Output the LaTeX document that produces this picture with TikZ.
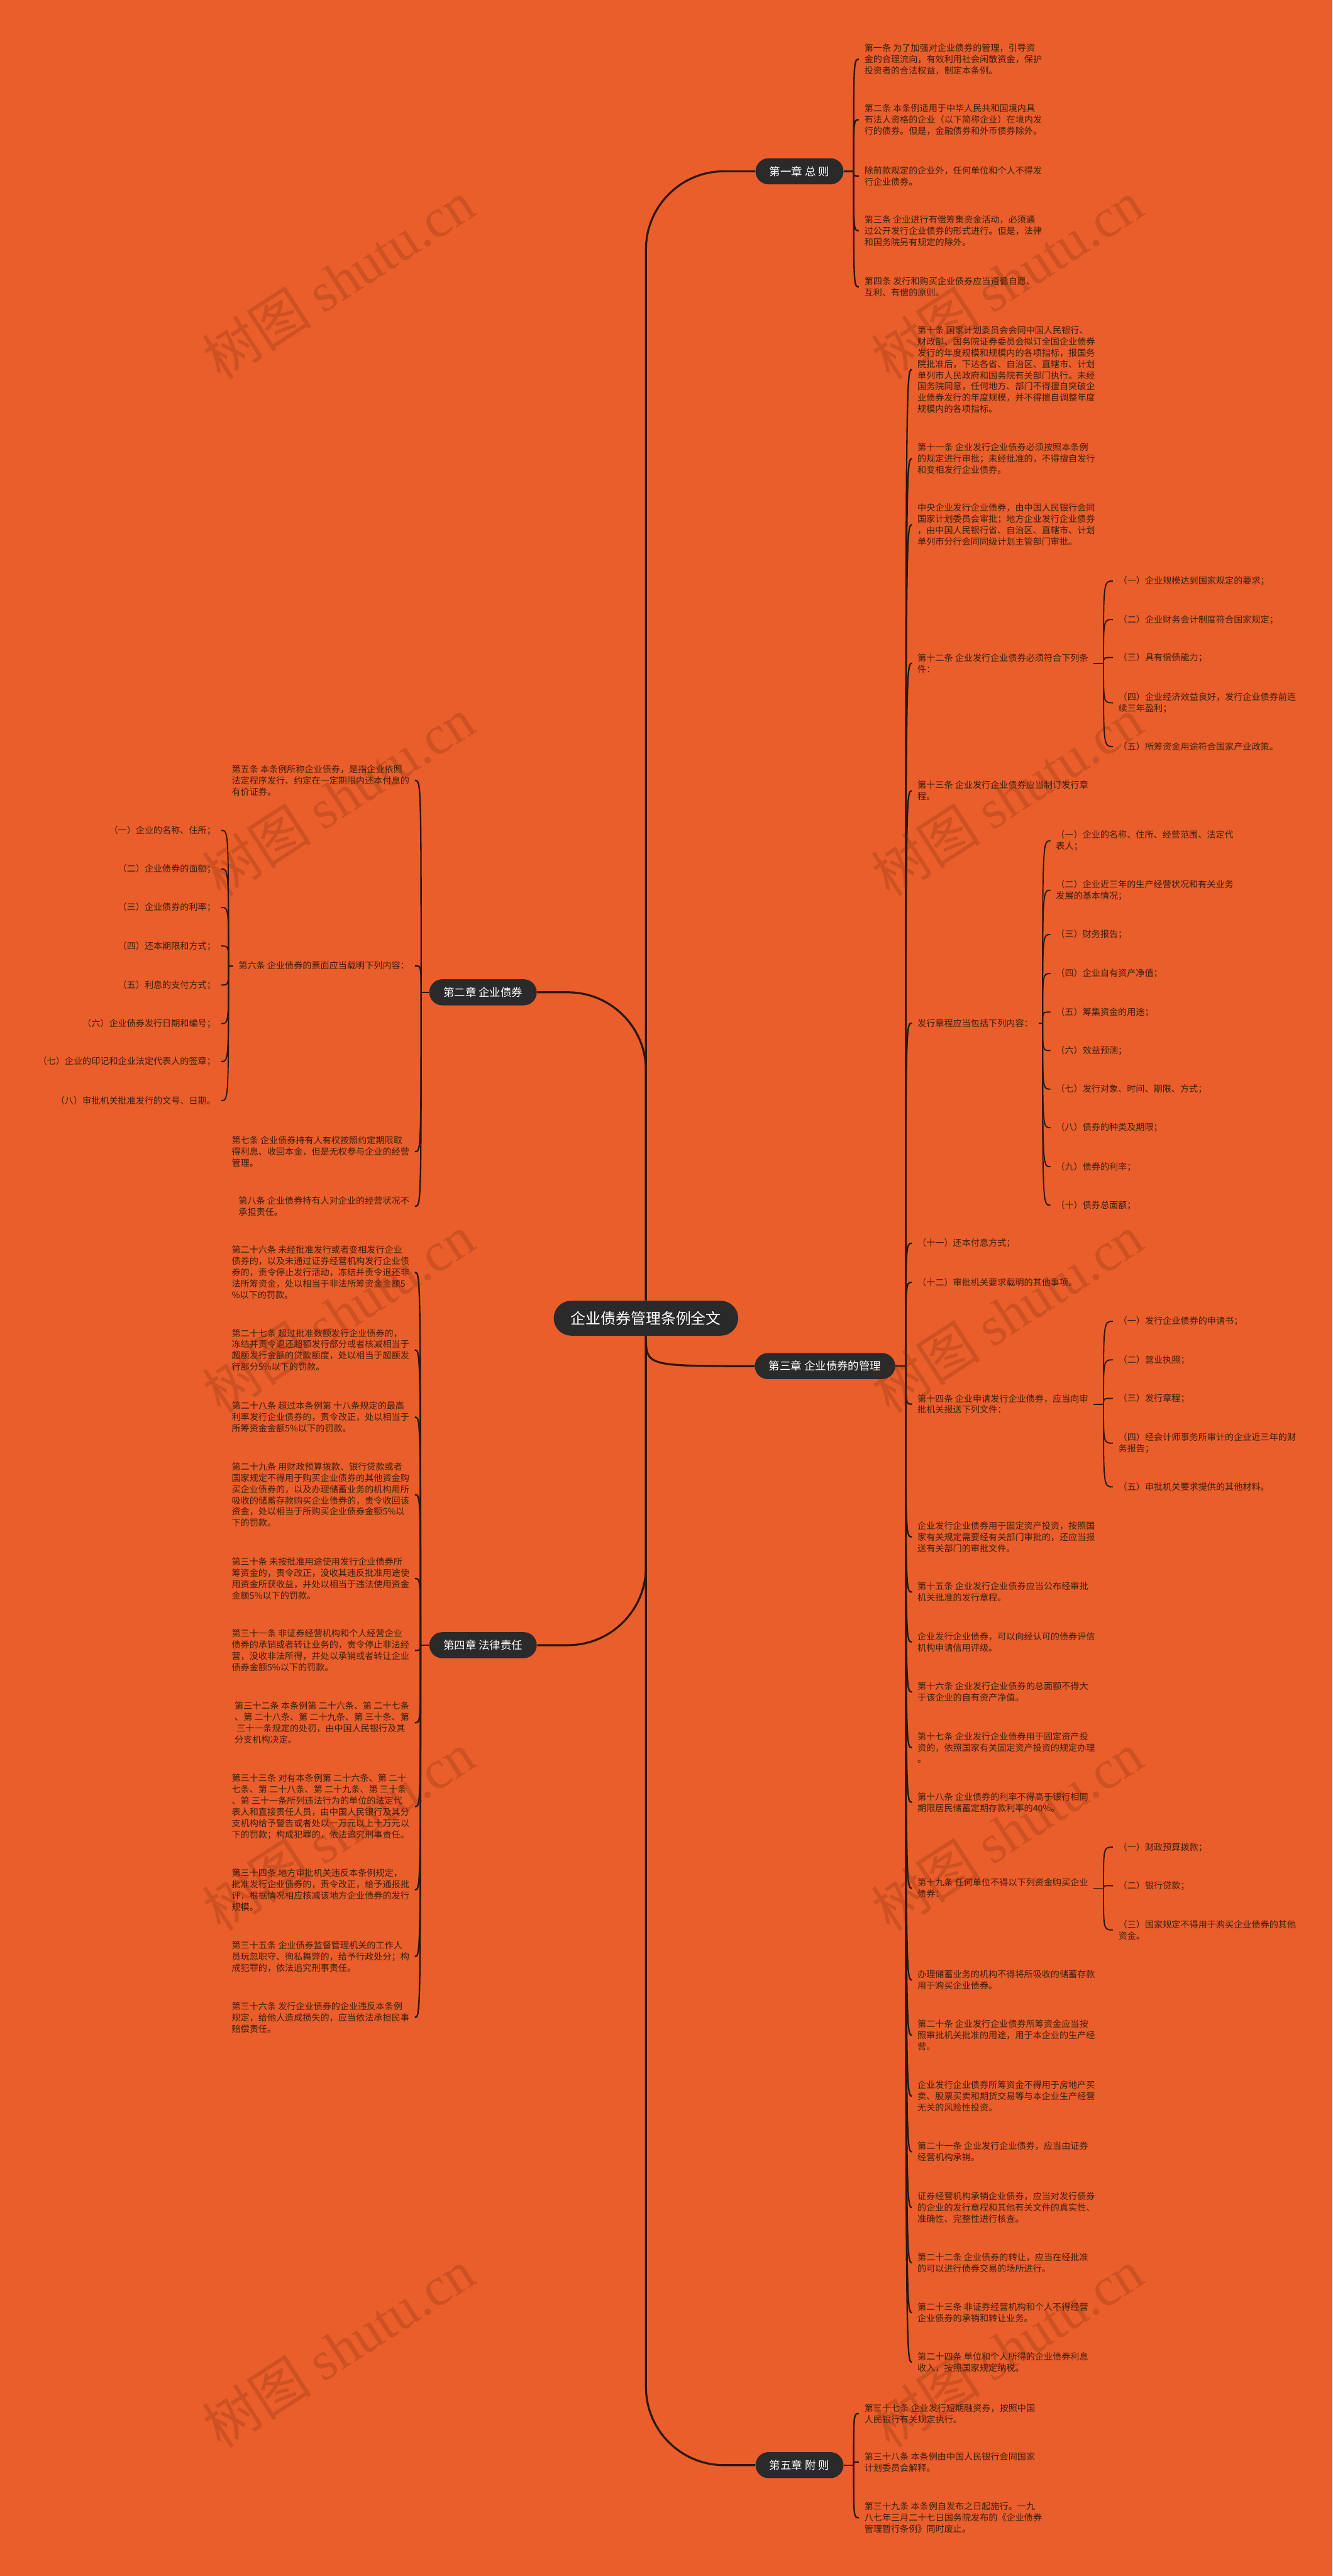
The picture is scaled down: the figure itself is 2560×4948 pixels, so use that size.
\documentclass[tikz,border=0pt]{standalone}
\usepackage{fontspec}
\newfontfamily\cjk{Noto Sans CJK SC}
\newfontfamily\wmserif{Liberation Serif}

\definecolor{bgorange}{HTML}{E95E2A}
\definecolor{nodedark}{HTML}{2A2A2A}
\definecolor{inkbrown}{HTML}{3B2012}
\definecolor{linebrown}{HTML}{2A1810}
\definecolor{markbrown}{HTML}{6A2408}

\tikzset{
  root/.style={rectangle, rounded corners=0.335cm, fill=nodedark, text=white, font=\cjk\fontsize{8.2pt}{9pt}\selectfont, minimum height=0.67cm, inner xsep=0.33cm, inner ysep=0pt},
  chapter/.style={rectangle, rounded corners=0.25cm, fill=nodedark, text=white, font=\cjk\fontsize{6pt}{7pt}\selectfont, minimum height=0.5cm, inner xsep=0.27cm, inner ysep=0pt},
  leaf/.style={align=left, inner xsep=0.1cm, inner ysep=0.02cm, text=inkbrown, font=\cjk\fontsize{4.85pt}{6.15pt}\selectfont},
  leafr/.style={leaf, anchor=west},
  leafl/.style={leaf, anchor=east},
  subl/.style={leaf, anchor=east, align=right},
  trunk/.style={draw=linebrown, line width=1.1pt},
  branch/.style={draw=linebrown, line width=0.8pt},
  twig/.style={draw=linebrown, line width=0.65pt},
  watermark/.style={rotate=33, text=markbrown, text opacity=0.22, font=\cjk\fontsize{30pt}{30pt}\selectfont}
}

\begin{document}
\begin{tikzpicture}[x=0.01cm, y=-0.01cm]

\fill[bgorange, use as bounding box] (0,0) rectangle (2560,4948);

% Boxes
\draw (1241,2532) node [root] (root) {企业债券管理条例全文};
\draw (1536,329) node [chapter] (ch1) {第一章 总 则};
\draw (928,1906) node [chapter] (ch2) {第二章 企业债券};
\draw (1585,2624) node [chapter] (ch3) {第三章 企业债券的管理};
\draw (928,3160) node [chapter] (ch4) {第四章 法律责任};
\draw (1536,4735) node [chapter] (ch5) {第五章 附 则};

% chapter one
\draw (1650,114) node [leafr] (c1a) {第一条 为了加强对企业债券的管理，引导资\\金的合理流向，有效利用社会闲散资金，保护\\投资者的合法权益，制定本条例。};
\draw (1650,230) node [leafr] (c1b) {第二条 本条例适用于中华人民共和国境内具\\有法人资格的企业（以下简称企业）在境内发\\行的债券。但是，金融债券和外币债券除外。};
\draw (1650,338) node [leafr] (c1c) {除前款规定的企业外，任何单位和个人不得发\\行企业债券。};
\draw (1650,443) node [leafr] (c1d) {第三条 企业进行有偿筹集资金活动，必须通\\过公开发行企业债券的形式进行。但是，法律\\和国务院另有规定的除外。};
\draw (1650,551) node [leafr] (c1e) {第四条 发行和购买企业债券应当遵循自愿、\\互利、有偿的原则。};

% chapter two
\draw (797,1499) node [leafl] (c2a) {第五条 本条例所称企业债券，是指企业依照\\法定程序发行、约定在一定期限内还本付息的\\有价证券。};
\draw (797,1855) node [leafl] (c2b) {第六条 企业债券的票面应当载明下列内容：};
\draw (797,2212) node [leafl] (c2c) {第七条 企业债券持有人有权按照约定期限取\\得利息、收回本金，但是无权参与企业的经营\\管理。};
\draw (797,2317) node [leafl] (c2d) {第八条 企业债券持有人对企业的经营状况不\\承担责任。};
\draw (425,1595) node [subl] (c2b1) {（一）企业的名称、住所；};
\draw (425,1669) node [subl] (c2b2) {（二）企业债券的面额；};
\draw (425,1743) node [subl] (c2b3) {（三）企业债券的利率；};
\draw (425,1817) node [subl] (c2b4) {（四）还本期限和方式；};
\draw (425,1892) node [subl] (c2b5) {（五）利息的支付方式；};
\draw (425,1966) node [subl] (c2b6) {（六）企业债券发行日期和编号；};
\draw (425,2039) node [subl] (c2b7) {（七）企业的印记和企业法定代表人的签章；};
\draw (425,2114) node [subl] (c2b8) {（八）审批机关批准发行的文号、日期。};

% chapter three
\draw (1752,710) node [leafr] (c3a) {第十条 国家计划委员会会同中国人民银行、\\财政部、国务院证券委员会拟订全国企业债券\\发行的年度规模和规模内的各项指标，报国务\\院批准后，下达各省、自治区、直辖市、计划\\单列市人民政府和国务院有关部门执行。未经\\国务院同意，任何地方、部门不得擅自突破企\\业债券发行的年度规模，并不得擅自调整年度\\规模内的各项指标。};
\draw (1752,881) node [leafr] (c3b) {第十一条 企业发行企业债券必须按照本条例\\的规定进行审批；未经批准的，不得擅自发行\\和变相发行企业债券。};
\draw (1752,1008) node [leafr] (c3c) {中央企业发行企业债券，由中国人民银行会同\\国家计划委员会审批；地方企业发行企业债券\\，由中国人民银行省、自治区、直辖市、计划\\单列市分行会同同级计划主管部门审批。};
\draw (1752,1274) node [leafr] (c3d) {第十二条 企业发行企业债券必须符合下列条\\件：};
\draw (2138,1116) node [leafr] (c3d1) {（一）企业规模达到国家规定的要求；};
\draw (2138,1190) node [leafr] (c3d2) {（二）企业财务会计制度符合国家规定；};
\draw (2138,1263) node [leafr] (c3d3) {（三）具有偿债能力；};
\draw (2138,1350) node [leafr] (c3d4) {（四）企业经济效益良好，发行企业债券前连\\续三年盈利；};
\draw (2138,1434) node [leafr] (c3d5) {（五）所筹资金用途符合国家产业政策。};
\draw (1752,1519) node [leafr] (c3e) {第十三条 企业发行企业债券应当制订发行章\\程。};
\draw (1752,1965) node [leafr] (c3f) {发行章程应当包括下列内容：};
\draw (2018,1615) node [leafr] (c3f1) {（一）企业的名称、住所、经营范围、法定代\\表人；};
\draw (2018,1710) node [leafr] (c3f2) {（二）企业近三年的生产经营状况和有关业务\\发展的基本情况；};
\draw (2018,1795) node [leafr] (c3f3) {（三）财务报告；};
\draw (2018,1870) node [leafr] (c3f4) {（四）企业自有资产净值；};
\draw (2018,1944) node [leafr] (c3f5) {（五）筹集资金的用途；};
\draw (2018,2018) node [leafr] (c3f6) {（六）效益预测；};
\draw (2018,2092) node [leafr] (c3f7) {（七）发行对象、时间、期限、方式；};
\draw (2018,2166) node [leafr] (c3f8) {（八）债券的种类及期限；};
\draw (2018,2241) node [leafr] (c3f9) {（九）债券的利率；};
\draw (2018,2315) node [leafr] (c3f10) {（十）债券总面额；};
\draw (1752,2388) node [leafr] (c3g) {（十一）还本付息方式；};
\draw (1752,2463) node [leafr] (c3h) {（十二）审批机关要求载明的其他事项。};
\draw (1752,2697) node [leafr] (c3i) {第十四条 企业申请发行企业债券，应当向审\\批机关报送下列文件：};
\draw (2138,2538) node [leafr] (c3i1) {（一）发行企业债券的申请书；};
\draw (2138,2612) node [leafr] (c3i2) {（二）营业执照；};
\draw (2138,2686) node [leafr] (c3i3) {（三）发行章程；};
\draw (2138,2772) node [leafr] (c3i4) {（四）经会计师事务所审计的企业近三年的财\\务报告；};
\draw (2138,2856) node [leafr] (c3i5) {（五）审批机关要求提供的其他材料。};
\draw (1752,2952) node [leafr] (c3j) {企业发行企业债券用于固定资产投资，按照国\\家有关规定需要经有关部门审批的，还应当报\\送有关部门的审批文件。};
\draw (1752,3058) node [leafr] (c3k) {第十五条 企业发行企业债券应当公布经审批\\机关批准的发行章程。};
\draw (1752,3154) node [leafr] (c3l) {企业发行企业债券，可以向经认可的债券评信\\机构申请信用评级。};
\draw (1752,3250) node [leafr] (c3m) {第十六条 企业发行企业债券的总面额不得大\\于该企业的自有资产净值。};
\draw (1752,3357) node [leafr] (c3n) {第十七条 企业发行企业债券用于固定资产投\\资的，依照国家有关固定资产投资的规定办理\\。};
\draw (1752,3462) node [leafr] (c3o) {第十八条 企业债券的利率不得高于银行相同\\期限居民储蓄定期存款利率的40\%。};
\draw (1752,3627) node [leafr] (c3p) {第十九条 任何单位不得以下列资金购买企业\\债券：};
\draw (2138,3548) node [leafr] (c3p1) {（一）财政预算拨款；};
\draw (2138,3622) node [leafr] (c3p2) {（二）银行贷款；};
\draw (2138,3707) node [leafr] (c3p3) {（三）国家规定不得用于购买企业债券的其他\\资金。};
\draw (1752,3803) node [leafr] (c3q) {办理储蓄业务的机构不得将所吸收的储蓄存款\\用于购买企业债券。};
\draw (1752,3909) node [leafr] (c3r) {第二十条 企业发行企业债券所筹资金应当按\\照审批机关批准的用途，用于本企业的生产经\\营。};
\draw (1752,4026) node [leafr] (c3s) {企业发行企业债券所筹资金不得用于房地产买\\卖、股票买卖和期货交易等与本企业生产经营\\无关的风险性投资。};
\draw (1752,4133) node [leafr] (c3t) {第二十一条 企业发行企业债券，应当由证券\\经营机构承销。};
\draw (1752,4240) node [leafr] (c3u) {证券经营机构承销企业债券，应当对发行债券\\的企业的发行章程和其他有关文件的真实性、\\准确性、完整性进行核查。};
\draw (1752,4346) node [leafr] (c3v) {第二十二条 企业债券的转让，应当在经批准\\的可以进行债券交易的场所进行。};
\draw (1752,4442) node [leafr] (c3w) {第二十三条 非证券经营机构和个人不得经营\\企业债券的承销和转让业务。};
\draw (1752,4537) node [leafr] (c3x) {第二十四条 单位和个人所得的企业债券利息\\收入，按照国家规定纳税。};

% chapter four
\draw (797,2444) node [leafl] (c4a) {第二十六条 未经批准发行或者变相发行企业\\债券的，以及未通过证券经营机构发行企业债\\券的，责令停止发行活动，冻结并责令退还非\\法所筹资金，处以相当于非法所筹资金金额5\\\%以下的罚款。};
\draw (797,2593) node [leafl] (c4b) {第二十七条 超过批准数额发行企业债券的，\\冻结并责令退还超额发行部分或者核减相当于\\超额发行金额的贷款额度，处以相当于超额发\\行部分5\%以下的罚款。};
\draw (797,2722) node [leafl] (c4c) {第二十八条 超过本条例第 十八条规定的最高\\利率发行企业债券的，责令改正，处以相当于\\所筹资金金额5\%以下的罚款。};
\draw (797,2871) node [leafl] (c4d) {第二十九条 用财政预算拨款、银行贷款或者\\国家规定不得用于购买企业债券的其他资金购\\买企业债券的，以及办理储蓄业务的机构用所\\吸收的储蓄存款购买企业债券的，责令收回该\\资金，处以相当于所购买企业债券金额5\%以\\下的罚款。};
\draw (797,3032) node [leafl] (c4e) {第三十条 未按批准用途使用发行企业债券所\\筹资金的，责令改正，没收其违反批准用途使\\用资金所获收益，并处以相当于违法使用资金\\金额5\%以下的罚款。};
\draw (797,3170) node [leafl] (c4f) {第三十一条 非证券经营机构和个人经营企业\\债券的承销或者转让业务的，责令停止非法经\\营，没收非法所得，并处以承销或者转让企业\\债券金额5\%以下的罚款。};
\draw (797,3309) node [leafl] (c4g) {第三十二条 本条例第 二十六条、第 二十七条\\、第 二十八条、第 二十九条、第 三十条、第\\~三十一条规定的处罚，由中国人民银行及其\\分支机构决定。};
\draw (797,3470) node [leafl] (c4h) {第三十三条 对有本条例第 二十六条、第 二十\\七条、第 二十八条、第 二十九条、第 三十条\\、第 三十一条所列违法行为的单位的法定代\\表人和直接责任人员，由中国人民银行及其分\\支机构给予警告或者处以一万元以上十万元以\\下的罚款；构成犯罪的，依法追究刑事责任。};
\draw (797,3630) node [leafl] (c4i) {第三十四条 地方审批机关违反本条例规定，\\批准发行企业债券的，责令改正，给予通报批\\评，根据情况相应核减该地方企业债券的发行\\规模。};
\draw (797,3758) node [leafl] (c4j) {第三十五条 企业债券监督管理机关的工作人\\员玩忽职守、徇私舞弊的，给予行政处分；构\\成犯罪的，依法追究刑事责任。};
\draw (797,3875) node [leafl] (c4k) {第三十六条 发行企业债券的企业违反本条例\\规定，给他人造成损失的，应当依法承担民事\\赔偿责任。};

% chapter five
\draw (1650,4636) node [leafr] (c5a) {第三十七条 企业发行短期融资券，按照中国\\人民银行有关规定执行。};
\draw (1650,4729) node [leafr] (c5b) {第三十八条 本条例由中国人民银行会同国家\\计划委员会解释。};
\draw (1650,4836) node [leafr] (c5c) {第三十九条 本条例自发布之日起施行。一九\\八七年三月二十七日国务院发布的《企业债券\\管理暂行条例》同时废止。};

% Junctions
\coordinate (j1) at (1640,329);
\coordinate (j2) at (809,1906);
\coordinate (j3) at (1740,2624);
\coordinate (j4) at (808,3160);
\coordinate (j5) at (1640,4735);
\coordinate (j2b) at (439,1855);
\coordinate (j3d) at (2120,1274);
\coordinate (j3f) at (2003,1965);
\coordinate (j3i) at (2120,2697);
\coordinate (j3p) at (2120,3627);

% Lines
\draw [trunk, rounded corners=1.5cm] (root.north) |- (ch1.west);
\draw [trunk, rounded corners=1.5cm] (root.north) |- (ch2.east);
\draw [trunk] (root.south) .. controls (root.south |- ch3.west) .. (ch3.west);
\draw [trunk, rounded corners=1.5cm] (root.south) |- (ch4.east);
\draw [trunk, rounded corners=1.5cm] (root.south) |- (ch5.west);

\draw [branch] (ch1.east) -- (j1);
\draw [branch] (ch2.west) -- (j2);
\draw [branch] (ch3.east) -- (j3);
\draw [branch] (ch4.west) -- (j4);
\draw [branch] (ch5.east) -- (j5);

\draw [branch] (j1) .. controls (j1 |- c1a) and (j1 |- c1a) .. (c1a.west);
\draw [branch] (j1) .. controls (j1 |- c1b) and (j1 |- c1b) .. (c1b.west);
\draw [branch] (j1) .. controls (j1 |- c1c) and (j1 |- c1c) .. (c1c.west);
\draw [branch] (j1) .. controls (j1 |- c1d) and (j1 |- c1d) .. (c1d.west);
\draw [branch] (j1) .. controls (j1 |- c1e) and (j1 |- c1e) .. (c1e.west);

\draw [branch] (j2) .. controls (j2 |- c2a) and (j2 |- c2a) .. (c2a.east);
\draw [branch] (j2) .. controls (j2 |- c2b) and (j2 |- c2b) .. (c2b.east);
\draw [branch] (j2) .. controls (j2 |- c2c) and (j2 |- c2c) .. (c2c.east);
\draw [branch] (j2) .. controls (j2 |- c2d) and (j2 |- c2d) .. (c2d.east);
\draw [twig] (c2b.west) -- (j2b);
\draw [twig] (j2b) .. controls (j2b |- c2b1) and (j2b |- c2b1) .. (c2b1.east);
\draw [twig] (j2b) .. controls (j2b |- c2b2) and (j2b |- c2b2) .. (c2b2.east);
\draw [twig] (j2b) .. controls (j2b |- c2b3) and (j2b |- c2b3) .. (c2b3.east);
\draw [twig] (j2b) .. controls (j2b |- c2b4) and (j2b |- c2b4) .. (c2b4.east);
\draw [twig] (j2b) .. controls (j2b |- c2b5) and (j2b |- c2b5) .. (c2b5.east);
\draw [twig] (j2b) .. controls (j2b |- c2b6) and (j2b |- c2b6) .. (c2b6.east);
\draw [twig] (j2b) .. controls (j2b |- c2b7) and (j2b |- c2b7) .. (c2b7.east);
\draw [twig] (j2b) .. controls (j2b |- c2b8) and (j2b |- c2b8) .. (c2b8.east);

\draw [branch] (j3) .. controls (j3 |- c3a) and (j3 |- c3a) .. (c3a.west);
\draw [branch] (j3) .. controls (j3 |- c3b) and (j3 |- c3b) .. (c3b.west);
\draw [branch] (j3) .. controls (j3 |- c3c) and (j3 |- c3c) .. (c3c.west);
\draw [branch] (j3) .. controls (j3 |- c3d) and (j3 |- c3d) .. (c3d.west);
\draw [branch] (j3) .. controls (j3 |- c3e) and (j3 |- c3e) .. (c3e.west);
\draw [branch] (j3) .. controls (j3 |- c3f) and (j3 |- c3f) .. (c3f.west);
\draw [branch] (j3) .. controls (j3 |- c3g) and (j3 |- c3g) .. (c3g.west);
\draw [branch] (j3) .. controls (j3 |- c3h) and (j3 |- c3h) .. (c3h.west);
\draw [branch] (j3) .. controls (j3 |- c3i) and (j3 |- c3i) .. (c3i.west);
\draw [branch] (j3) .. controls (j3 |- c3j) and (j3 |- c3j) .. (c3j.west);
\draw [branch] (j3) .. controls (j3 |- c3k) and (j3 |- c3k) .. (c3k.west);
\draw [branch] (j3) .. controls (j3 |- c3l) and (j3 |- c3l) .. (c3l.west);
\draw [branch] (j3) .. controls (j3 |- c3m) and (j3 |- c3m) .. (c3m.west);
\draw [branch] (j3) .. controls (j3 |- c3n) and (j3 |- c3n) .. (c3n.west);
\draw [branch] (j3) .. controls (j3 |- c3o) and (j3 |- c3o) .. (c3o.west);
\draw [branch] (j3) .. controls (j3 |- c3p) and (j3 |- c3p) .. (c3p.west);
\draw [branch] (j3) .. controls (j3 |- c3q) and (j3 |- c3q) .. (c3q.west);
\draw [branch] (j3) .. controls (j3 |- c3r) and (j3 |- c3r) .. (c3r.west);
\draw [branch] (j3) .. controls (j3 |- c3s) and (j3 |- c3s) .. (c3s.west);
\draw [branch] (j3) .. controls (j3 |- c3t) and (j3 |- c3t) .. (c3t.west);
\draw [branch] (j3) .. controls (j3 |- c3u) and (j3 |- c3u) .. (c3u.west);
\draw [branch] (j3) .. controls (j3 |- c3v) and (j3 |- c3v) .. (c3v.west);
\draw [branch] (j3) .. controls (j3 |- c3w) and (j3 |- c3w) .. (c3w.west);
\draw [branch] (j3) .. controls (j3 |- c3x) and (j3 |- c3x) .. (c3x.west);

\draw [twig] (c3d.east) -- (j3d);
\draw [twig] (j3d) .. controls (j3d |- c3d1) and (j3d |- c3d1) .. (c3d1.west);
\draw [twig] (j3d) .. controls (j3d |- c3d2) and (j3d |- c3d2) .. (c3d2.west);
\draw [twig] (j3d) .. controls (j3d |- c3d3) and (j3d |- c3d3) .. (c3d3.west);
\draw [twig] (j3d) .. controls (j3d |- c3d4) and (j3d |- c3d4) .. (c3d4.west);
\draw [twig] (j3d) .. controls (j3d |- c3d5) and (j3d |- c3d5) .. (c3d5.west);

\draw [twig] (c3f.east) -- (j3f);
\draw [twig] (j3f) .. controls (j3f |- c3f1) and (j3f |- c3f1) .. (c3f1.west);
\draw [twig] (j3f) .. controls (j3f |- c3f2) and (j3f |- c3f2) .. (c3f2.west);
\draw [twig] (j3f) .. controls (j3f |- c3f3) and (j3f |- c3f3) .. (c3f3.west);
\draw [twig] (j3f) .. controls (j3f |- c3f4) and (j3f |- c3f4) .. (c3f4.west);
\draw [twig] (j3f) .. controls (j3f |- c3f5) and (j3f |- c3f5) .. (c3f5.west);
\draw [twig] (j3f) .. controls (j3f |- c3f6) and (j3f |- c3f6) .. (c3f6.west);
\draw [twig] (j3f) .. controls (j3f |- c3f7) and (j3f |- c3f7) .. (c3f7.west);
\draw [twig] (j3f) .. controls (j3f |- c3f8) and (j3f |- c3f8) .. (c3f8.west);
\draw [twig] (j3f) .. controls (j3f |- c3f9) and (j3f |- c3f9) .. (c3f9.west);
\draw [twig] (j3f) .. controls (j3f |- c3f10) and (j3f |- c3f10) .. (c3f10.west);

\draw [twig] (c3i.east) -- (j3i);
\draw [twig] (j3i) .. controls (j3i |- c3i1) and (j3i |- c3i1) .. (c3i1.west);
\draw [twig] (j3i) .. controls (j3i |- c3i2) and (j3i |- c3i2) .. (c3i2.west);
\draw [twig] (j3i) .. controls (j3i |- c3i3) and (j3i |- c3i3) .. (c3i3.west);
\draw [twig] (j3i) .. controls (j3i |- c3i4) and (j3i |- c3i4) .. (c3i4.west);
\draw [twig] (j3i) .. controls (j3i |- c3i5) and (j3i |- c3i5) .. (c3i5.west);

\draw [twig] (c3p.east) -- (j3p);
\draw [twig] (j3p) .. controls (j3p |- c3p1) and (j3p |- c3p1) .. (c3p1.west);
\draw [twig] (j3p) .. controls (j3p |- c3p2) and (j3p |- c3p2) .. (c3p2.west);
\draw [twig] (j3p) .. controls (j3p |- c3p3) and (j3p |- c3p3) .. (c3p3.west);

\draw [branch] (j4) .. controls (j4 |- c4a) and (j4 |- c4a) .. (c4a.east);
\draw [branch] (j4) .. controls (j4 |- c4b) and (j4 |- c4b) .. (c4b.east);
\draw [branch] (j4) .. controls (j4 |- c4c) and (j4 |- c4c) .. (c4c.east);
\draw [branch] (j4) .. controls (j4 |- c4d) and (j4 |- c4d) .. (c4d.east);
\draw [branch] (j4) .. controls (j4 |- c4e) and (j4 |- c4e) .. (c4e.east);
\draw [branch] (j4) .. controls (j4 |- c4f) and (j4 |- c4f) .. (c4f.east);
\draw [branch] (j4) .. controls (j4 |- c4g) and (j4 |- c4g) .. (c4g.east);
\draw [branch] (j4) .. controls (j4 |- c4h) and (j4 |- c4h) .. (c4h.east);
\draw [branch] (j4) .. controls (j4 |- c4i) and (j4 |- c4i) .. (c4i.east);
\draw [branch] (j4) .. controls (j4 |- c4j) and (j4 |- c4j) .. (c4j.east);
\draw [branch] (j4) .. controls (j4 |- c4k) and (j4 |- c4k) .. (c4k.east);

\draw [branch] (j5) .. controls (j5 |- c5a) and (j5 |- c5a) .. (c5a.west);
\draw [branch] (j5) .. controls (j5 |- c5b) and (j5 |- c5b) .. (c5b.west);
\draw [branch] (j5) .. controls (j5 |- c5c) and (j5 |- c5c) .. (c5c.west);

% watermark
\draw (650,537) node [watermark] (wm1) {树图 {\wmserif shutu.cn}};
\draw (1935,537) node [watermark] (wm2) {树图 {\wmserif shutu.cn}};
\draw (650,1530) node [watermark] (wm3) {树图 {\wmserif shutu.cn}};
\draw (1935,1530) node [watermark] (wm4) {树图 {\wmserif shutu.cn}};
\draw (650,2523) node [watermark] (wm5) {树图 {\wmserif shutu.cn}};
\draw (1935,2523) node [watermark] (wm6) {树图 {\wmserif shutu.cn}};
\draw (650,3517) node [watermark] (wm7) {树图 {\wmserif shutu.cn}};
\draw (1935,3517) node [watermark] (wm8) {树图 {\wmserif shutu.cn}};
\draw (650,4510) node [watermark] (wm9) {树图 {\wmserif shutu.cn}};
\draw (1935,4510) node [watermark] (wm10) {树图 {\wmserif shutu.cn}};
\end{tikzpicture}
\end{document}
